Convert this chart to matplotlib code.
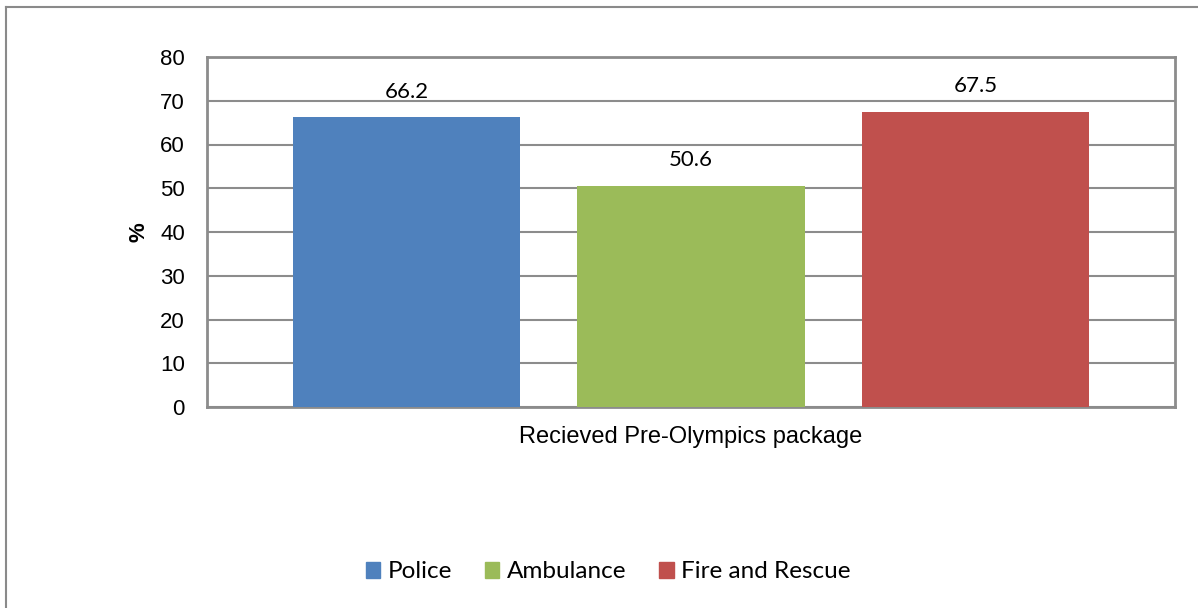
import matplotlib
matplotlib.use("Agg")
import matplotlib.pyplot as plt
from matplotlib.patches import Rectangle
from matplotlib.lines import Line2D

categories = ["Police", "Ambulance", "Fire and Rescue"]
values = [66.2, 50.6, 67.5]
colors = ["#4F81BD", "#9BBB59", "#C0504D"]
yticks = [0, 10, 20, 30, 40, 50, 60, 70, 80]
xlabel = "Recieved Pre-Olympics package"

W, H = 1198, 608
fig = plt.figure(figsize=(W / 100, H / 100), dpi=100)
fig.patch.set_facecolor("white")

# outer frame
fig.add_artist(Line2D([6 / W, 6 / W], [0, 1 - 7 / H], transform=fig.transFigure, color="#8a8a8a", lw=1.5))
fig.add_artist(Line2D([6 / W, 1], [1 - 7 / H, 1 - 7 / H], transform=fig.transFigure, color="#8a8a8a", lw=1.5))

ax = fig.add_axes([207 / W, 1 - 407 / H, (1175 - 207) / W, (407 - 57) / H])
x = list(range(len(categories)))
bars = ax.bar(x, values, width=0.8, color=colors, zorder=3)
ax.set_xlim(-0.702, 2.702)
ax.set_ylim(0, 80)
ax.set_yticks(yticks)
ax.set_yticklabels([str(t) for t in yticks], fontsize=16, family="Liberation Sans")
ax.tick_params(axis="y", length=0, pad=16)
ax.set_xticks([])
ax.grid(axis="y", color="#8c8c8c", lw=1.5, zorder=0)
for s in ax.spines.values():
    s.set_color("#8c8c8c")
    s.set_linewidth(2)

for xi, v in zip(x, values):
    ax.annotate(f"{v}", (xi, v), xytext=(0, 14), textcoords="offset points",
                ha="center", va="baseline", fontsize=16, family="Lato")

ax.set_ylabel("%", fontsize=16, fontweight="bold", family="Liberation Sans", labelpad=7.5)
ax.set_xlabel(xlabel, fontsize=17, family="Liberation Sans", labelpad=14)

handles = [Rectangle((0, 0), 1, 1, color=c) for c in colors]
fig.legend(handles, categories, loc="center", bbox_to_anchor=(608 / W, 1 - 572 / H),
           ncol=3, frameon=False, prop={"family": "Lato", "size": 17.5},
           handlelength=0.6, handleheight=0.6, handletextpad=0.3, columnspacing=1.35)

fig.savefig("out.png", dpi=100, facecolor="white")
